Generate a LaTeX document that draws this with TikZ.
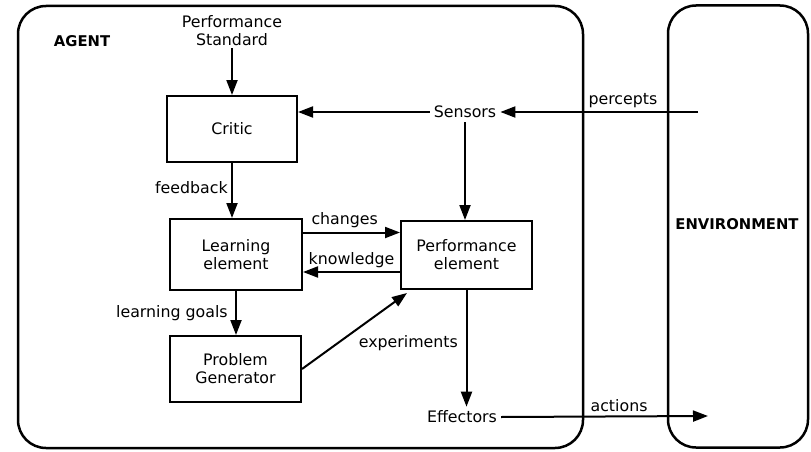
\documentclass[tikz,border=0pt]{standalone}
\usepackage{fontspec}
\setmainfont{DejaVu Sans}
\usetikzlibrary{arrows.meta}

\begin{document}
\begin{tikzpicture}[auto,x=1pt,y=-1pt,font=\fontsize{15.8}{18}\selectfont,
  >={Triangle[length=15pt,width=11pt]},
  block/.style={rectangle,draw,line width=2pt,align=center,inner sep=0pt},
  frame/.style={rectangle,draw,line width=2.5pt,rounded corners=28pt,inner sep=0pt},
  title/.style={font=\fontsize{14.8}{18}\selectfont\bfseries},
  flow/.style={line width=2pt,->}]
\useasboundingbox (0,0) rectangle (811,452);
\node (agent) at (300.5,227) [frame,minimum width=565pt,minimum height=442pt] {};
\node (env)   at (738,226.5) [frame,minimum width=140pt,minimum height=442pt] {};
\node (agentlbl) at (82,41)  [title] {AGENT};
\node (envlbl)   at (737,224) [title] {ENVIRONMENT};
\node (std)   at (232,31) [align=center,inner sep=2pt] {Performance\\Standard};
\node (critic) at (232,129)   [block,minimum width=130pt,minimum height=66pt] {Critic};
\node (learn)  at (236,254.5) [block,minimum width=132pt,minimum height=71pt] {Learning\\element};
\node (prob)   at (235.5,369) [block,minimum width=131pt,minimum height=66pt] {Problem\\Generator};
\node (perf)   at (466.5,255) [block,minimum width=131pt,minimum height=68pt] {Performance\\element};
\node (sensors)   at (465,112) [inner sep=4pt] {Sensors};
\node (effectors) at (462,417) [inner sep=4pt] {Effectors};
\coordinate (envin)  at (698,112);
\coordinate (envout) at (708,416);
\draw [flow] (std.south) to (critic.north);
\draw [flow] (sensors.west) to (sensors.west -| critic.east);
\draw [flow] (envin) to node [above,pos=0.38] {percepts} (sensors.east);
\draw [flow] (sensors.south) to (sensors.south |- perf.north);
\draw [flow] (critic.south) to node [left,pos=0.45] {feedback} (critic.south |- learn.north);
\draw [flow] ([yshift=22pt]learn.east) to node [above,pos=0.43] {changes} ([yshift=22pt]learn.east -| perf.west);
\draw [flow] ([yshift=-17pt]perf.west) to node [above,swap,pos=0.5] {knowledge} ([yshift=-17pt]perf.west -| learn.east);
\draw [flow] (learn.south) to node [left,xshift=-4pt] {learning goals} (learn.south |- prob.north);
\draw [flow] (prob.east) to node [below right,pos=0.5] {experiments} ([xshift=7pt,yshift=-3pt]perf.south west);
\draw [flow] (perf.south) to (perf.south |- effectors.north);
\draw [flow] (effectors.east) to node [above,pos=0.57] {actions} (envout);
\end{tikzpicture}
\end{document}
